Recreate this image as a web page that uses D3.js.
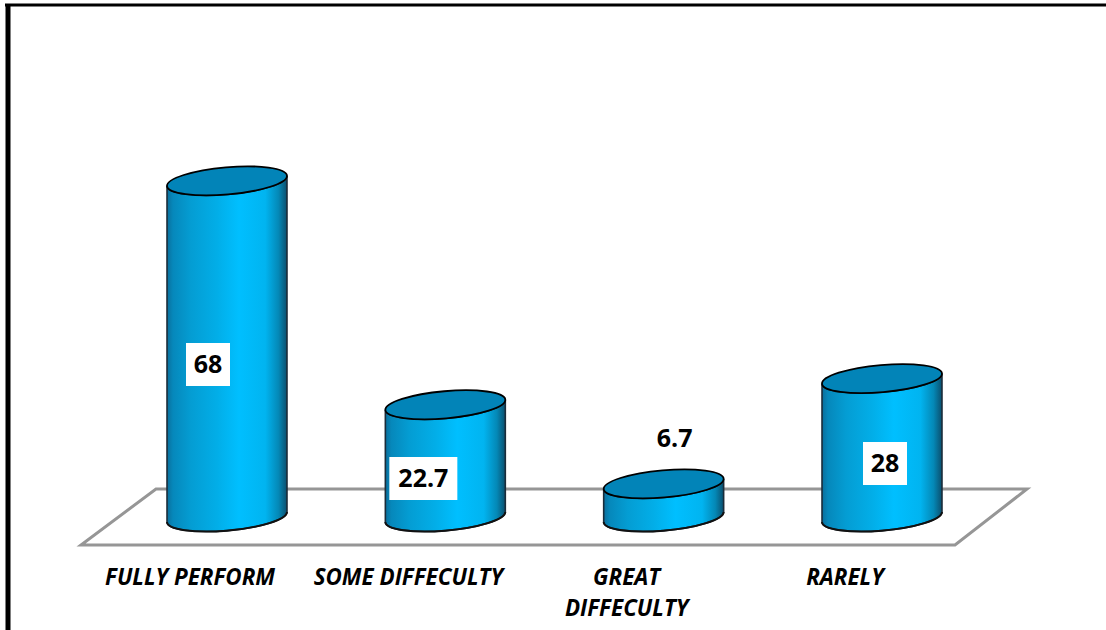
<!DOCTYPE html>
<html>
<head>
<meta charset="utf-8">
<script src="https://cdn.jsdelivr.net/npm/d3@7"></script>
<style>
  html, body { margin: 0; padding: 0; background: #fff; }
  svg { display: block; }
  text { font-family: "Open Sans", "Noto Sans", sans-serif; font-weight: 700; fill: #000; }
</style>
</head>
<body>
<svg id="chart" width="1106" height="630"></svg>
<script>
// Survey results, one cylinder per response
const categories = ["FULLY PERFORM", "SOME DIFFECULTY", "GREAT DIFFECULTY", "RARELY"];
const values = [68, 22.7, 6.7, 28];
const categoryLines = [["FULLY PERFORM"], ["SOME DIFFECULTY"], ["GREAT", "DIFFECULTY"], ["RARELY"]];
const valueLabelBoxed = [true, true, false, true];

// Layout of the value labels relative to each cylinder
const labelDx = [-19, -22, 11, 3];
const labelY = [364, 478, 438, 463];

const W = 1106, H = 630;
const svg = d3.select("#chart").attr("viewBox", [0, 0, W, H]);

const x = d3.scalePoint().domain(categories).range([227, 882]);
const y = d3.scaleLinear().domain([0, 70]).range([517, 171]);

const rx = 60.2, ry = 13.6, tilt = -5;
const rad = tilt * Math.PI / 180;
// Horizontal extent of the tilted ellipse and the height of its vertical tangent points
const halfW = Math.sqrt(rx * rx * Math.cos(rad) ** 2 + ry * ry * Math.sin(rad) ** 2);
const tangentDy = (rx * rx - ry * ry) * Math.abs(Math.sin(rad) * Math.cos(rad)) / halfW;

const defs = svg.append("defs");
const grad = defs.append("linearGradient").attr("id", "bodyFill")
  .attr("x1", 0).attr("x2", 1).attr("y1", 0).attr("y2", 0);
[[0, "#0a6f9c"], [0.05, "#0688bb"], [0.2, "#049dd3"], [0.42, "#02aee8"], [0.6, "#00bfff"], [0.82, "#01b4f0"], [0.93, "#0488b6"], [1, "#0b4f6e"]]
  .forEach(([o, c]) => grad.append("stop").attr("offset", o).attr("stop-color", c));

// Window frame: heavy rules on the top and left edges
svg.append("line").attr("x1", 5).attr("x2", W).attr("y1", 5).attr("y2", 5)
  .attr("stroke", "#000").attr("stroke-width", 3);
svg.append("line").attr("x1", 8).attr("x2", 8).attr("y1", 4).attr("y2", H)
  .attr("stroke", "#000").attr("stroke-width", 5);

// Floor of the 3-D plot
const floor = d3.path();
floor.moveTo(81, 545); floor.lineTo(955, 545); floor.lineTo(1027, 489); floor.lineTo(156, 489); floor.closePath();
svg.append("path").attr("d", floor.toString()).attr("fill", "none")
  .attr("stroke", "#969696").attr("stroke-width", 3);

// Cylinders
const base = y(0);
const bars = svg.append("g").selectAll("g").data(categories).join("g");

bars.append("path")
  .attr("d", (c, i) => {
    const cx = x(c), top = y(values[i]);
    return `M${cx - halfW},${top + tangentDy}` +
      `L${cx - halfW},${base + tangentDy}` +
      `A${rx},${ry} ${tilt} 0 0 ${cx + halfW},${base - tangentDy}` +
      `L${cx + halfW},${top - tangentDy}` +
      `A${rx},${ry} ${tilt} 0 1 ${cx - halfW},${top + tangentDy}Z`;
  })
  .attr("fill", "url(#bodyFill)").attr("stroke", "#1a2c3a").attr("stroke-width", 1.6);

// Heavier shadow line under the front of each cylinder
bars.append("path")
  .attr("d", c => {
    const cx = x(c);
    return `M${cx - halfW},${base + tangentDy}A${rx},${ry} ${tilt} 0 0 ${cx + halfW},${base - tangentDy}`;
  })
  .attr("fill", "none").attr("stroke", "#111").attr("stroke-width", 2);

bars.append("ellipse")
  .attr("rx", rx).attr("ry", ry)
  .attr("transform", (c, i) => `translate(${x(c)},${y(values[i])}) rotate(${tilt})`)
  .attr("fill", "#0284b8").attr("stroke", "#000").attr("stroke-width", 1.8);

// Value labels, on white plates where they sit over a cylinder
const labels = svg.append("g").selectAll("g").data(categories).join("g")
  .attr("transform", (c, i) => `translate(${x(c) + labelDx[i]},${labelY[i]})`);
labels.filter((c, i) => valueLabelBoxed[i]).append("rect")
  .attr("x", (c) => -(values[categories.indexOf(c)] % 1 ? 34 : 22)).attr("y", -21)
  .attr("width", (c) => (values[categories.indexOf(c)] % 1 ? 68 : 44)).attr("height", 43)
  .attr("fill", "#fff");
labels.append("text").attr("text-anchor", "middle").attr("dy", "0.36em")
  .attr("font-size", 25).text((c, i) => values[i]);

// Category labels
const cat = svg.append("g").selectAll("text").data(categories).join("text")
  .attr("text-anchor", "middle").attr("font-size", 22.4).attr("font-style", "italic")
  .attr("transform", c => `translate(${x(c) - 37},585)`);
cat.selectAll("tspan").data((c, i) => categoryLines[i]).join("tspan")
  .attr("x", 0).attr("dy", (d, i) => i ? 31 : 0).text(d => d);
</script>
</body>
</html>
